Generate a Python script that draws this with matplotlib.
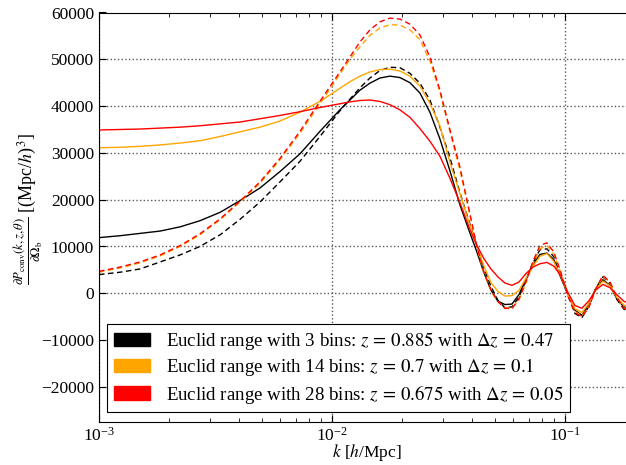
import numpy as np
import matplotlib
matplotlib.use("Agg")
import matplotlib.pyplot as plt
from matplotlib.patches import Patch

plt.rcParams['font.family'] = ['Liberation Serif', 'DejaVu Serif']
plt.rcParams['mathtext.fontset'] = 'stix'
plt.rcParams['xtick.direction'] = 'in'
plt.rcParams['ytick.direction'] = 'in'
plt.rcParams['xtick.top'] = True
plt.rcParams['ytick.right'] = True

# k in h/Mpc
k = [0.00100, 0.00123, 0.00150, 0.00183, 0.00223, 0.00271, 0.00331, 0.00403, 0.00491,
     0.00598, 0.00729, 0.00888, 0.01082, 0.01195, 0.01319, 0.01456, 0.01607, 0.01774,
     0.01958, 0.02162, 0.02386, 0.02634, 0.02907, 0.03209, 0.03543, 0.03911, 0.04192,
     0.04493, 0.04814, 0.05160, 0.05529, 0.05925, 0.06349, 0.06803, 0.07291, 0.07812,
     0.08371, 0.08970, 0.09612, 0.1030, 0.1104, 0.1183, 0.1268, 0.1358, 0.1456,
     0.1560, 0.1672, 0.1791, 0.1920]

# solid lines
black_solid = [11900, 12300, 12800, 13300, 14200, 15500, 17300, 19800, 22500, 26000, 29800, 34600, 39200,
               41300, 43400, 44900, 46000, 46400, 46100, 45000, 42800, 38700, 33000, 26200, 18900, 12900,
               8800, 4400, 700, -1700, -2400, -2300, -300, 3000, 6100, 8300, 8600, 7200, 3300, -100,
               -3600, -4700, -2300, 1000, 2900, 1700, -1200, -2900, -3400]
orange_solid = [31100, 31200, 31400, 31700, 32100, 32600, 33500, 34500, 35500, 36800, 38700, 41000, 43800,
                45200, 46400, 47300, 47800, 47900, 47500, 46400, 44300, 40600, 35800, 28000, 21300, 14600,
                10000, 5800, 2300, 400, -600, -500, 600, 3200, 5700, 7900, 8500, 6800, 3600, 0,
                -3300, -4100, -2200, 900, 2600, 1600, -900, -2500, -3000]
red_solid = [34900, 35000, 35100, 35300, 35500, 35800, 36200, 36600, 37300, 38000, 38800, 39700, 40500,
             40900, 41200, 41300, 41000, 40300, 39200, 37600, 35200, 32500, 29300, 24600, 19400, 13600,
             10200, 7400, 5200, 3500, 2200, 1700, 2400, 4200, 5600, 6300, 6600, 5800, 3700, 200,
             -2600, -3200, -1600, 700, 1900, 1200, -300, -1700, -2300]

# dashed lines
black_dashed = [4000, 4500, 5200, 6700, 8200, 10000, 12500, 15800, 19500, 23800, 28200, 33500, 39000,
                41500, 43900, 46000, 47600, 48300, 48200, 47000, 44900, 41300, 35500, 29000, 21500, 14800,
                10200, 5400, 1500, -1500, -3100, -2900, -800, 2700, 6500, 9300, 9500, 7800, 3700, -400,
                -4300, -5200, -2800, 1100, 3500, 2200, -1300, -3400, -3900]
orange_dashed = [4500, 5400, 6500, 8000, 10000, 12500, 15700, 19500, 23500, 28500, 34200, 40500, 46800,
                 50000, 52700, 55100, 56700, 57400, 57300, 56300, 54200, 49600, 43000, 34500, 26300, 16700,
                 9800, 4300, 600, -1800, -3100, -3100, -1500, 2200, 6300, 9500, 10200, 8400, 4400, -300,
                 -3900, -4800, -2900, 900, 3600, 2400, -800, -3100, -3700]
red_dashed = [4700, 5600, 6700, 8200, 10200, 12700, 15900, 19700, 23800, 28800, 34600, 41000, 47300,
              50500, 53700, 56300, 58000, 58800, 58600, 57500, 55200, 50500, 43400, 35000, 27000, 17000,
              10000, 4500, 700, -1800, -3200, -3300, -1200, 2500, 6800, 10200, 10800, 8800, 4500, -500,
              -4100, -5000, -3000, 1000, 3800, 2500, -900, -3200, -3800]

labels = [r'Euclid range with 3 bins: $z\,=\,0.885$ with $\Delta z\,=\,0.47$',
          r'Euclid range with 14 bins: $z\,=\,0.7$ with $\Delta z\,=\,0.1$',
          r'Euclid range with 28 bins: $z\,=\,0.675$ with $\Delta z\,=\,0.05$']
colors = ['black', 'orange', 'red']

fig = plt.figure(figsize=(6.26, 4.65), dpi=100)
ax = fig.add_axes([99/626, 1 - 422/465, 536/626, (422 - 12.5)/465])

for sol, das, c in zip([black_solid, orange_solid, red_solid],
                       [black_dashed, orange_dashed, red_dashed], colors):
    ax.plot(k, sol, color=c, lw=1.0)
    ax.plot(k, das, color=c, lw=1.0, dashes=(4, 2.5))

ax.set_xscale('log')
ax.set_xlim(1e-3, 0.2)
ax.set_ylim(-27500, 60000)
ax.set_yticks(np.arange(-20000, 60001, 10000))
ax.grid(True, which='major', color='0.35', linestyle=':', lw=1.0)
ax.tick_params(labelsize=12.5, length=5)
ax.tick_params(which='minor', length=3)

ax.set_xlabel(r'$k$ [$h$/Mpc]', fontsize=12.5)
ax.xaxis.set_label_coords(0.5, -0.05)
ax.set_ylabel(r'$\frac{\partial P_{\rm conv}(k,z,\theta)}{\partial\Omega_{\rm b}}$ [(Mpc/$h$)$^3$]', fontsize=13)
ax.yaxis.set_label_coords(-0.10, 0.52)

handles = [Patch(facecolor=c, edgecolor=c) for c in colors]
leg = ax.legend(handles, labels, loc='lower left', bbox_to_anchor=(0.015, 0.024),
                borderaxespad=0, fontsize=13.6, handlelength=1.95, labelspacing=0.22,
                borderpad=0.35, fancybox=False, framealpha=1, edgecolor='black')
leg.get_frame().set_linewidth(0.8)

fig.savefig('out.png', dpi=100)
